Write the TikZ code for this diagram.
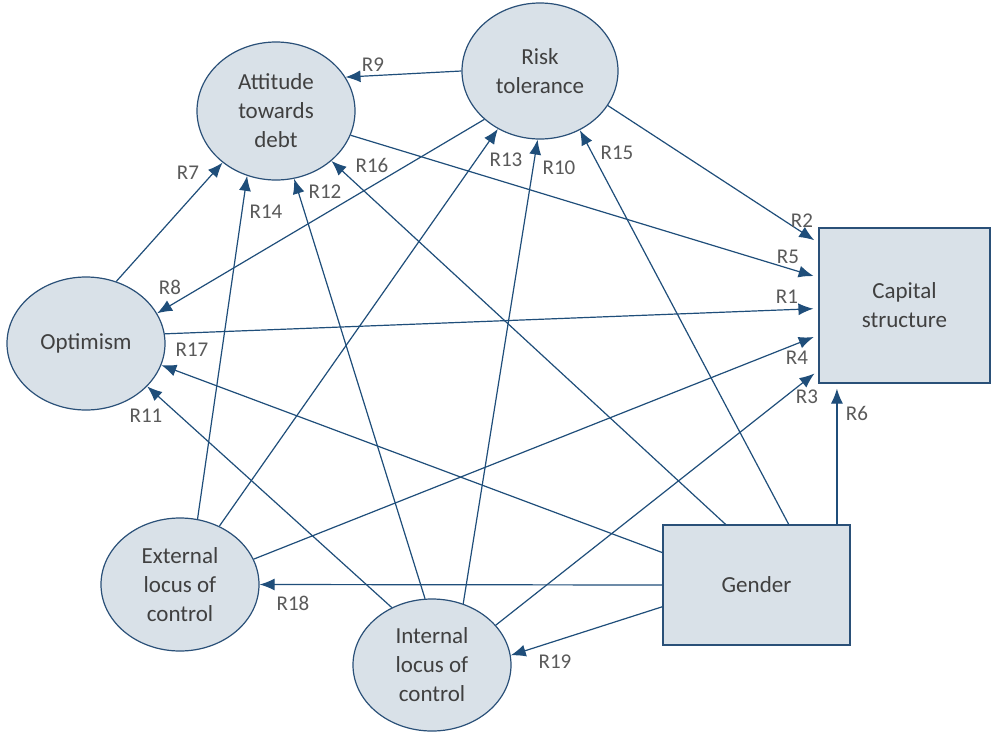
\documentclass[tikz,border=0pt]{standalone}
\usepackage{fontspec}
\setmainfont{Carlito}
\usetikzlibrary{arrows.meta,shapes.geometric}
\definecolor{fillc}{HTML}{D9E1E8}
\definecolor{edgec}{HTML}{2A5078}
\definecolor{arrc}{HTML}{1F4E7A}
\definecolor{txtc}{HTML}{404040}
\definecolor{lblc}{HTML}{5A5A5A}
\begin{document}
\begin{tikzpicture}[x=1pt,y=-1pt,
 ell/.style={ellipse,draw=edgec,fill=fillc,line width=1.2pt,inner sep=0pt,align=center,text=txtc,font=\fontsize{23}{29}\selectfont},
 box/.style={rectangle,draw=edgec,fill=fillc,line width=1.2pt,inner sep=0pt,align=center,text=txtc,font=\fontsize{23}{29}\selectfont},
 arr/.style={draw=arrc,line width=1.2pt,-{Latex[length=15pt,width=12pt]}},
 capend/.style={shorten >=5pt},
 lbl/.style={text=lblc,font=\fontsize{21}{21}\selectfont,inner sep=0pt}]
\fill[white] (0,0) rectangle (991,732);
\useasboundingbox (0,0) rectangle (991,732);
% nodes
\node[ell,minimum width=158pt,minimum height=138pt] (att) at (276,111) {Attitude\\towards\\debt};
\node[ell,minimum width=156pt,minimum height=136pt] (risk) at (540,71) {Risk\\tolerance};
\node[ell,minimum width=158pt,minimum height=133pt] (opt) at (86,343.5) {Optimism};
\node[ell,minimum width=158pt,minimum height=133pt] (ext) at (180,584.5) {External\\locus of\\control};
\node[ell,minimum width=158pt,minimum height=132pt] (int) at (432,665) {Internal\\locus of\\control};
\node[box,minimum width=171pt,minimum height=155pt] (cap) at (904.5,305.5) {Capital\\structure};
\node[box,minimum width=187pt,minimum height=120pt] (gen) at (756.5,585) {Gender};
% connectors
\draw[arr,capend] (opt.7.2) -- (cap.182.3);
\draw[arr,capend] (risk.333.4) -- (cap.144.7);
\draw[arr,capend] (int.32.4) -- (cap.217.5);
\draw[arr,capend] (ext.19.9) -- (cap.199.6);
\draw[arr,capend] (att.342.7) -- (cap.162.2);
\draw[arr,capend] (gen.37) -- (gen.37 |- cap.south);
\draw[arr] (opt.64.6) -- (att.224);
\draw[arr] (risk.221.3) -- (opt.23.4);
\draw[arr] (risk.180.7) -- (att.26.2);
\draw[arr] (int.63.4) -- (risk.268.3);
\draw[arr] (int.125.7) -- (opt.325.5);
\draw[arr] (int.96) -- (att.285);
\draw[arr] (ext.56.1) -- (risk.234.8);
\draw[arr] (ext.75.3) -- (att.246.4);
\draw[arr] (gen.62.3) -- (risk.304.1);
\draw[arr] (gen.117.7) -- (att.318.5);
\draw[arr] (gen.161.1) -- (opt.344.4);
\draw[arr] (gen.west) -- (ext.east);
\draw[arr] (gen.193.8) -- (int.7);
% labels
\node[lbl] (l1) at (787,297) {R1};
\node[lbl] (l2) at (802,221) {R2};
\node[lbl] (l3) at (807,397) {R3};
\node[lbl] (l4) at (797,358) {R4};
\node[lbl] (l5) at (788,257) {R5};
\node[lbl] (l6) at (857,413) {R6};
\node[lbl] (l7) at (188,173) {R7};
\node[lbl] (l8) at (170,287) {R8};
\node[lbl] (l9) at (373,65) {R9};
\node[lbl] (l10) at (559,168) {R10};
\node[lbl] (l11) at (146,416) {R11};
\node[lbl] (l12) at (325,192) {R12};
\node[lbl] (l13) at (506,160) {R13};
\node[lbl] (l14) at (266,212) {R14};
\node[lbl] (l15) at (617,153) {R15};
\node[lbl] (l16) at (372,165) {R16};
\node[lbl] (l17) at (192,350) {R17};
\node[lbl] (l18) at (293,603) {R18};
\node[lbl] (l19) at (555,662) {R19};
\end{tikzpicture}
\end{document}
